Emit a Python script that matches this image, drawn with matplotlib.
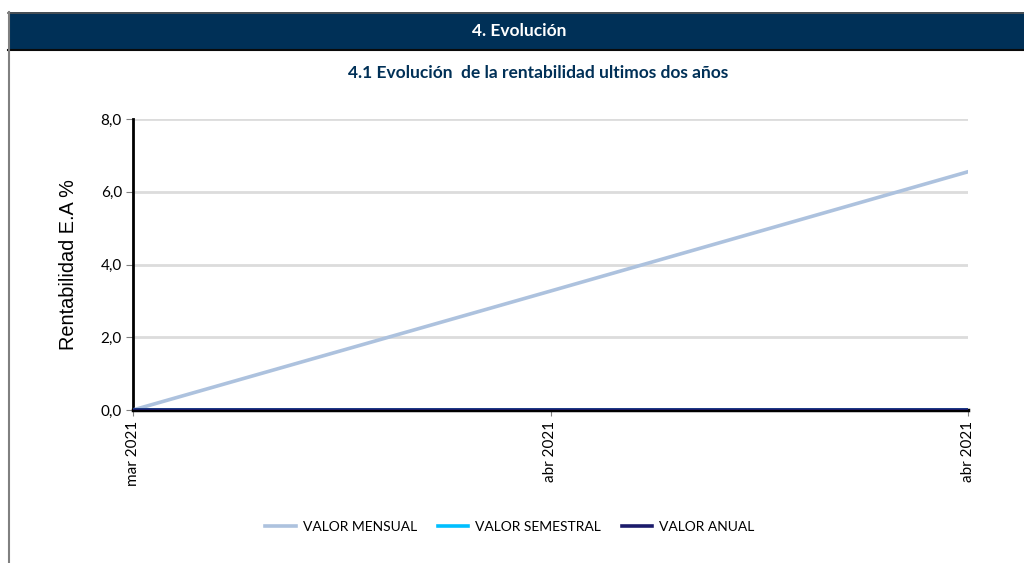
import matplotlib as mpl
import matplotlib.pyplot as plt
import matplotlib.ticker as ticker
from matplotlib.patches import Rectangle
from matplotlib.lines import Line2D

mpl.rcParams['font.family'] = ['Lato', 'DejaVu Sans']

# Data
fechas = ["mar 2021", "abr 2021", "abr 2021"]
valor_mensual = [0.0, 3.27, 6.55]
valor_semestral = [0.0, 0.0, 0.0]
valor_anual = [0.0, 0.0, 0.0]
y_ticks = [0, 2, 4, 6, 8]

navy = '#003057'

fig = plt.figure(figsize=(10.24, 5.63), dpi=100)

# Header bar
fig.patches.append(Rectangle((8 / 1024, 1 - 50 / 563), 1 - 8 / 1024, 38 / 563,
                             transform=fig.transFigure, facecolor=navy,
                             edgecolor='none', zorder=0))
fig.add_artist(Line2D([8 / 1024, 1], [1 - 12.5 / 563] * 2, color='#555555', lw=1.2))
fig.add_artist(Line2D([8 / 1024, 1], [1 - 49.5 / 563] * 2, color='#0a0a0a', lw=1.5))
fig.add_artist(Line2D([8.5 / 1024] * 2, [0, 1 - 12 / 563], color='#808080', lw=1.5))

fig.text(519 / 1024, 1 - 31 / 563, "4. Evolución", color='white', fontsize=12.5,
         fontweight='bold', ha='center', va='center')
fig.text(538 / 1024, 1 - 73 / 563, "4.1 Evolución  de la rentabilidad ultimos dos años",
         color=navy, fontsize=12.5, fontweight='bold', ha='center', va='center')

ax = fig.add_axes([133 / 1024, 1 - 410 / 563, (968 - 133) / 1024, (410 - 119) / 563])
x = range(len(fechas))

ax.plot(x, valor_mensual, color='#adc2de', lw=2.6, label='VALOR MENSUAL', zorder=3)
ax.plot(x, valor_semestral, color='#00bfff', lw=2.6, label='VALOR SEMESTRAL', zorder=3)
ax.plot(x, valor_anual, color='#1b1b6b', lw=2.6, label='VALOR ANUAL', zorder=4)

ax.set_xlim(0, len(fechas) - 1)
ax.set_ylim(0, 8)
ax.set_yticks(y_ticks)
ax.yaxis.set_major_formatter(ticker.FuncFormatter(lambda v, p: f"{v:.1f}".replace('.', ',')))
ax.set_xticks(list(x))
ax.set_xticklabels(fechas, rotation=90, fontsize=11)
ax.tick_params(axis='y', labelsize=11, length=5, color='#808080', pad=3)
ax.tick_params(axis='x', length=4, color='#808080', pad=4)

ax.grid(axis='y', color='#dcdcdc', lw=2)
ax.set_axisbelow(True)
for s in ['top', 'right']:
    ax.spines[s].set_visible(False)
ax.spines['left'].set_linewidth(2)
ax.spines['bottom'].set_linewidth(2.5)
ax.spines['left'].set_color('black')
ax.spines['bottom'].set_color('black')

ax.set_ylabel("Rentabilidad E.A %", fontsize=14.3, family='Liberation Sans', labelpad=16)

fig.legend(loc='center', bbox_to_anchor=(510 / 1024, 1 - 527 / 563), ncol=3,
           frameon=False, fontsize=10, handlelength=2.2, columnspacing=1.5,
           handletextpad=0.5)

fig.savefig("out.png", dpi=100)
